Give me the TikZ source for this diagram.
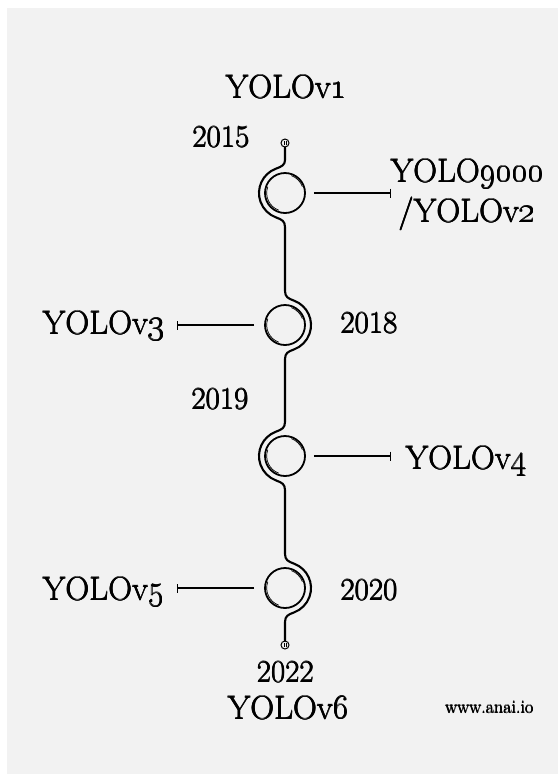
\documentclass[tikz,border=0pt]{standalone}
\usetikzlibrary{arrows.meta,calc}
\definecolor{bggray}{HTML}{F2F2F2}
\newcommand{\hv}[1]{\rlap{#1}\rlap{\hspace{0.6pt}#1}\rlap{\hspace{0.3pt}\raisebox{0.35pt}{#1}}\rlap{\hspace{0.3pt}\raisebox{-0.2pt}{#1}}\phantom{#1}\hspace{0.6pt}}
\begin{document}
\begin{tikzpicture}[x=1pt,y=-1pt,
  ring/.style={circle,draw,line width=1.8pt,minimum size=40pt,inner sep=0pt},
  dotnode/.style={circle,draw,line width=1pt,minimum size=8pt,inner sep=0pt},
  wrapline/.style={line width=2.1pt,line cap=round,line join=round},
  conn/.style={line width=1.6pt,-{Bar[width=9pt,line width=1.4pt]}},
  sketch/.style={line width=0.7pt},
  lbl/.style={inner sep=0pt,font=\fontsize{33}{38}\selectfont},
  yr/.style={inner sep=0pt,font=\fontsize{31}{36}\selectfont},
  small/.style={inner sep=0pt,font=\fontsize{18}{21}\selectfont}]
\useasboundingbox (0,0) rectangle (558,774);
\fill[white] (0,0) rectangle (558,774);
\fill[bggray] (7,8) rectangle (558,774);

% timeline nodes
\node[dotnode] (d0) at (285,143) {};
\node[ring] (c1) at (285,193) {};
\node[ring] (c2) at (285,325) {};
\node[ring] (c3) at (285,456) {};
\node[ring] (c4) at (285,588) {};
\node[dotnode] (d5) at (285,645) {};
\foreach \d in {d0,d5}{
  \draw[line width=0.6pt] ($(\d.center)+(-1,-2)$) -- ($(\d.center)+(-1,2)$);
  \draw[line width=0.6pt] ($(\d.center)+(1,-2)$) -- ($(\d.center)+(1,2)$);
}
% sketchy double strokes
\foreach \c in {c1,c2,c3,c4}{
  \draw[sketch] ($(\c.center)+(110:18.3)$) arc[start angle=110,end angle=200,radius=18.3];
  \draw[sketch] ($(\c.center)+(-70:18.5)$) arc[start angle=-70,end angle=-20,radius=18.5];
}

% wrapping line
\draw[wrapline] (d0.south) -- (285,160)
  .. controls (285,165) and (281.7,166.5) .. (276.1,168.6)
  arc[start angle=-110,end angle=-250,radius=26]
  .. controls (281.7,219.5) and (285,221) .. (285,227)
  -- (285,291)
  .. controls (285,297) and (288.3,298.5) .. (293.9,300.6)
  arc[start angle=-70,end angle=70,radius=26]
  .. controls (288.3,351.5) and (285,353) .. (285,359)
  -- (285,422)
  .. controls (285,428) and (281.7,429.5) .. (276.1,431.6)
  arc[start angle=-110,end angle=-250,radius=26]
  .. controls (281.7,482.5) and (285,484) .. (285,490)
  -- (285,554)
  .. controls (285,560) and (288.3,561.5) .. (293.9,563.6)
  arc[start angle=-70,end angle=70,radius=26]
  .. controls (288.3,614.5) and (285,616) .. (285,622)
  -- (d5.north);

% connector ends
\coordinate (t1) at (391,193);
\coordinate (t2) at (177,325);
\coordinate (t3) at (391,456);
\coordinate (t4) at (177,588);
\draw[conn] ([xshift=8pt]c1.east) -- (t1);
\draw[conn] ([xshift=-10pt]c2.west) -- (t2);
\draw[conn] ([xshift=8pt]c3.east) -- (t3);
\draw[conn] ([xshift=-10pt]c4.west) -- (t4);

% labels
\node[lbl,anchor=base] (v1) at (286,98) {\hv{YOLOv\oldstylenums{1}}};
\node[yr,anchor=base west] (y15) at (192,147) {\hv{2015}};
\node[lbl,anchor=base west] (v9000) at (390,182) {\hv{YOLO\oldstylenums{9000}}};
\node[lbl,anchor=base west] (v2) at (398,222) {\hv{/YOLOv\oldstylenums{2}}};
\node[lbl,anchor=base east] (v3) at (164,334) {\hv{YOLOv\oldstylenums{3}}};
\node[yr,anchor=base west] (y18) at (340,333) {\hv{2018}};
\node[yr,anchor=base west] (y19) at (191,409) {\hv{2019}};
\node[lbl,anchor=base west] (v4) at (405,469) {\hv{YOLOv\oldstylenums{4}}};
\node[lbl,anchor=base east] (v5) at (164,600) {\hv{YOLOv\oldstylenums{5}}};
\node[yr,anchor=base west] (y20) at (340,600) {\hv{2020}};
\node[yr,anchor=base] (y22) at (285,682) {\hv{2022}};
\node[lbl,anchor=base] (v6) at (288,719) {\hv{YOLOv\oldstylenums{6}}};
\node[small,anchor=base] (www) at (489,713) {\hv{www.anai.io}};
\end{tikzpicture}
\end{document}
